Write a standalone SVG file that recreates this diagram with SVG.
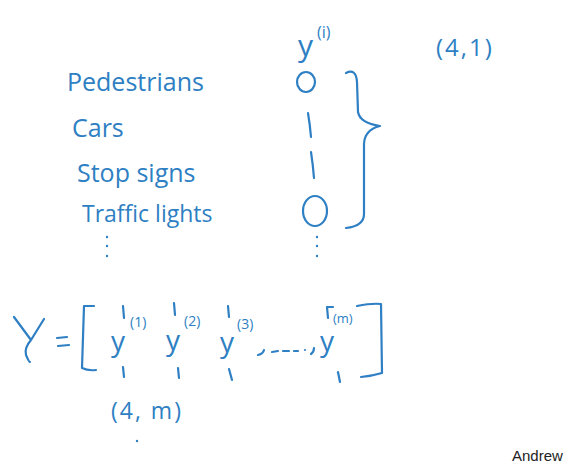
<svg xmlns="http://www.w3.org/2000/svg" width="570" height="464" viewBox="0 0 570 464">
<style>
.t{font-family:"Open Sans","Liberation Sans",sans-serif;fill:#2e7fc3;}
.s{fill:none;stroke:#2e7fc3;stroke-width:2.2;stroke-linecap:round;stroke-linejoin:round;}
.d{fill:#2e7fc3;}
</style>
<rect width="570" height="464" fill="#ffffff"/>
<g id="header">
<text class="t" x="298" y="56" font-size="30">y</text>
<text class="t" x="317" y="38" font-size="16">(i)</text>
<text class="t" x="436" y="56" font-size="24" letter-spacing="2">(4,1)</text>
</g>
<g id="labels">
<text class="t" x="67" y="91" font-size="25">Pedestrians</text>
<text class="t" x="72" y="137" font-size="25">Cars</text>
<text class="t" x="77" y="182" font-size="25">Stop signs</text>
<text class="t" x="82" y="222" font-size="23">Traffic lights</text>
<circle class="d" cx="107" cy="237" r="1.2"/><circle class="d" cx="107" cy="246" r="1.2"/><circle class="d" cx="107" cy="256" r="1.2"/>
</g>
<g id="values">
<ellipse class="s" cx="306" cy="82" rx="9" ry="10"/>
<path class="s" d="M308 113 Q310 125 311 137"/>
<path class="s" d="M311 152 Q313 165 314 178"/>
<ellipse class="s" cx="315" cy="211" rx="12" ry="15"/>
<circle class="d" cx="317" cy="237" r="1.2"/><circle class="d" cx="317" cy="246" r="1.2"/><circle class="d" cx="317" cy="256" r="1.2"/>
</g>
<g id="brace">
<path class="s" d="M346 73 Q356 68 357 82 L358 112 Q360 123 380 126 Q364 130 364 145 L364 214 Q364 226 346 228"/>
</g>
<g id="matrix">
<path class="s" d="M14 317 L31 340 L44 319 M31 340 Q24 348 26 355 Q29 362 30 362"/>
<path class="s" d="M57 338 L67 337 M58 346 L69 345"/>
<path class="s" d="M94 306 L84 306 L82 368 Q88 371 96 370"/>
<path class="s" d="M123 306 L124 318 M123 367 L124 377"/>
<text class="t" x="111" y="351" font-size="28">y</text>
<text class="t" x="130" y="327" font-size="14">(1)</text>
<path class="s" d="M174 303 L175 315 M178 368 L179 378"/>
<text class="t" x="166" y="350" font-size="28">y</text>
<text class="t" x="184" y="326" font-size="14">(2)</text>
<path class="s" d="M228 306 L229 317 M229 369 L232 380"/>
<text class="t" x="220" y="352" font-size="28">y</text>
<text class="t" x="237" y="329" font-size="14">(3)</text>
<path class="s" d="M258 355 Q263 354 264 350"/>
<path class="s" d="M272 352 L278 351 M283 351 L289 351 M294 351 L298 351"/>
<circle class="d" cx="305" cy="350" r="1.1"/>
<path class="s" d="M311 354 Q314 352 314 348"/>
<text class="t" x="320" y="351" font-size="28">y</text>
<path class="s" d="M333 307 L327 307 L328 318"/>
<text class="t" x="333" y="323" font-size="13">(m)</text>
<path class="s" d="M338 372 L340 382"/>
<path class="s" d="M357 306 Q372 303 381 304 L382 373 Q372 376 361 377"/>
<text class="t" x="111" y="419" font-size="23" letter-spacing="2">(4, m)</text>
<circle class="d" cx="137" cy="441" r="1.2"/>
</g>
<text x="512" y="461" font-family="Liberation Sans, sans-serif" font-size="15" fill="#222">Andrew</text>
</svg>
